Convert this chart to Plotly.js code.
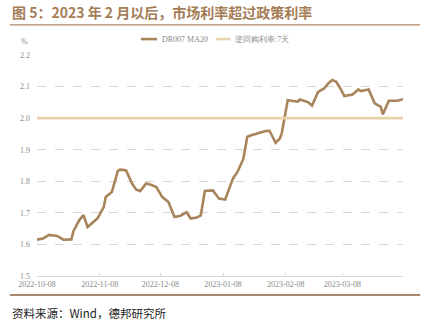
<!DOCTYPE html>
<html>
<head>
<meta charset="utf-8">
<script src="https://cdn.plot.ly/plotly-3.0.1.min.js"></script>
<style>
html,body{margin:0;padding:0;background:#fff;}
#chart{width:424px;height:327px;}
</style>
</head>
<body>
<div id="chart"></div>
<script>
const dates = ['2022-10-08','2022-10-11','2022-10-14','2022-10-18','2022-10-21','2022-10-25','2022-10-26','2022-10-29','2022-10-31','2022-11-02','2022-11-05','2022-11-07','2022-11-10','2022-11-11','2022-11-14','2022-11-17','2022-11-18','2022-11-21','2022-11-24','2022-11-26','2022-11-28','2022-12-01','2022-12-03','2022-12-06','2022-12-09','2022-12-12','2022-12-15','2022-12-18','2022-12-21','2022-12-23','2022-12-26','2022-12-28','2022-12-30','2023-01-03','2023-01-06','2023-01-09','2023-01-13','2023-01-15','2023-01-18','2023-01-20','2023-01-22','2023-01-27','2023-01-29','2023-01-31','2023-02-03','2023-02-05','2023-02-06','2023-02-09','2023-02-11','2023-02-14','2023-02-15','2023-02-19','2023-02-21','2023-02-24','2023-02-27','2023-03-01','2023-03-03','2023-03-05','2023-03-07','2023-03-09','2023-03-13','2023-03-16','2023-03-17','2023-03-21','2023-03-24','2023-03-27','2023-03-28','2023-03-31','2023-04-04','2023-04-07'];
const dr007 = [1.615,1.619,1.630,1.627,1.615,1.616,1.642,1.678,1.693,1.655,1.672,1.683,1.718,1.750,1.766,1.833,1.837,1.835,1.793,1.774,1.769,1.793,1.790,1.782,1.750,1.734,1.687,1.691,1.702,1.682,1.685,1.692,1.769,1.771,1.745,1.742,1.810,1.828,1.870,1.941,1.946,1.957,1.959,1.960,1.922,1.935,1.951,2.057,2.055,2.052,2.059,2.051,2.040,2.083,2.094,2.110,2.121,2.115,2.094,2.070,2.075,2.091,2.086,2.091,2.047,2.036,2.012,2.055,2.055,2.060];
const policyRate = 2.0;
const policyDates = ['2022-10-08','2023-04-07'];
const tickDates = ['2022-10-08','2022-11-08','2022-12-08','2023-01-08','2023-02-08','2023-03-08'];
const yTicks = [1.5,1.6,1.7,1.8,1.9,2.0,2.1,2.2];
const seriesNames = ['DR007 MA20','逆回购利率:7天'];
const seriesColors = ['#a8845a','#e5d3aa'];
const titleText = '图 5：2023 年 2 月以后，市场利率超过政策利率';
const sourceText = '资料来源：Wind，德邦研究所';

const traces = [
  {x: dates, y: dr007, type:'scatter', mode:'lines', name: seriesNames[0],
   line:{color:seriesColors[0], width:2.6}},
  {x: policyDates, y: policyDates.map(()=>policyRate), type:'scatter', mode:'lines', name: seriesNames[1],
   line:{color:seriesColors[1], width:2.6}}
];

// custom legend positions (paper coords), built from series names/colors
const legY = 1.072;
const legItems = [{x0:0.284, x1:0.328, tx:0.335}, {x0:0.489, x1:0.528, tx:0.535}];

const shapes = [
  {type:'rect', xref:'paper', yref:'paper', x0:-0.074, x1:1.047, y0:1.133, y1:1.139,
   fillcolor:'#b08a68', line:{width:0}},
  {type:'rect', xref:'paper', yref:'paper', x0:-0.074, x1:1.047, y0:-0.081, y1:-0.091,
   fillcolor:'#a8876d', line:{width:0}}
];
const annotations = [
  {xref:'paper', yref:'paper', x:-0.075, y:1.195, xanchor:'left', yanchor:'middle', showarrow:false,
   text:'<b>'+titleText+'</b>', font:{family:'Noto Sans CJK SC, sans-serif', size:14, color:'#a47c56'}},
  {xref:'paper', yref:'paper', x:-0.035, y:1.063, xanchor:'center', yanchor:'middle', showarrow:false,
   text:'%', font:{family:'Liberation Serif, serif', size:8, color:'#8a8a8a'}},
  {xref:'paper', yref:'paper', x:-0.075, y:-0.166, xanchor:'left', yanchor:'middle', showarrow:false,
   text:sourceText, font:{family:'Noto Sans CJK SC, sans-serif', size:11.5, color:'#222'}}
];
legItems.forEach((it,i)=>{
  shapes.push({type:'line', xref:'paper', yref:'paper', x0:it.x0, x1:it.x1, y0:legY, y1:legY,
    line:{color:seriesColors[i], width:2.6}});
  annotations.push({xref:'paper', yref:'paper', x:it.tx, y:legY, xanchor:'left', yanchor:'middle',
    showarrow:false, text:seriesNames[i], font:{family:'Liberation Serif, serif', size:8, color:'#8a8a8a'}});
});

const layout = {
  width:424, height:327,
  margin:{l:37, r:21, t:55, b:51},
  paper_bgcolor:'#fff', plot_bgcolor:'#fff',
  font:{family:'Liberation Serif, serif', size:8, color:'#8a8a8a'},
  showlegend:false,
  xaxis:{type:'date', range:['2022-10-08','2023-04-07'], tickvals:tickDates, tickformat:'%Y-%m-%d',
         showgrid:false, showline:true, linecolor:'#d9d9d9', linewidth:1,
         ticks:'inside', ticklen:3, tickcolor:'#d9d9d9', zeroline:false,
         tickfont:{family:'Liberation Serif, serif', size:8, color:'#8a8a8a'}},
  yaxis:{range:[1.5,2.2], tickvals:yTicks, tickformat:'.1f', showgrid:true, gridcolor:'#d6d6d6',
         griddash:'dash', gridwidth:1, zeroline:false, showline:false, ticks:'',
         ticklabelstandoff:6,
         tickfont:{family:'Liberation Serif, serif', size:8, color:'#8a8a8a'}},
  shapes: shapes,
  annotations: annotations
};

Plotly.newPlot('chart', traces, layout, {displayModeBar:false, staticPlot:true});
</script>
</body>
</html>
